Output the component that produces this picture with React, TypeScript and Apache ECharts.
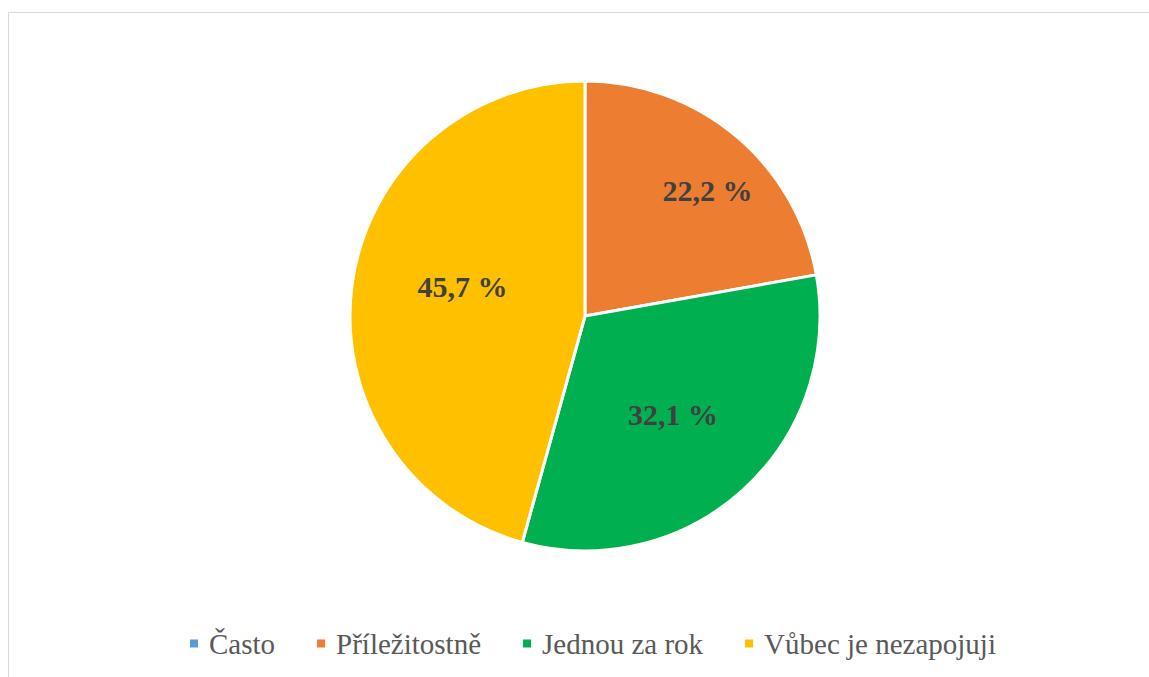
import React, { useEffect, useRef } from "react";
import * as echarts from "echarts";

const categories = ["Často", "Příležitostně", "Jednou za rok", "Vůbec je nezapojuji"];
const values = [0, 22.2, 32.1, 45.7];
const colors = ["#5B9BD5", "#ED7D31", "#00B050", "#FFC000"];
const labelOffsets: number[][] = [[0, 0], [45, -33], [7, 9], [-3, -13]];

const FONT = "'Times New Roman', 'Liberation Serif', 'DejaVu Serif', serif";

export default function App() {
  const ref = useRef<HTMLDivElement>(null);
  useEffect(() => {
    if (!ref.current) return;
    const chart = echarts.init(ref.current, null, { renderer: "svg" });
    chart.setOption({
      animation: false,
      backgroundColor: "#ffffff",
      textStyle: { fontFamily: FONT },
      graphic: [
        {
          type: "rect",
          shape: { x: 8.5, y: 12.5, width: 1200, height: 700 },
          style: { fill: "none", stroke: "#d9d9d9", lineWidth: 1 },
          silent: true,
        },
      ],
      legend: {
        left: 188,
        top: 629,
        padding: 0,
        icon: "rect",
        itemWidth: 10,
        itemHeight: 10,
        itemGap: 40,
        data: categories,
        textStyle: {
          fontFamily: FONT,
          fontSize: 29,
          color: "#595959",
          lineHeight: 29,
          padding: [0, 0, 0, 5],
        },
      },
      series: [
        {
          type: "pie",
          center: [585, 316],
          radius: [0, 235],
          startAngle: 90,
          clockwise: true,
          itemStyle: { borderColor: "#ffffff", borderWidth: 3 },
          label: {
            show: true,
            position: "inside",
            fontFamily: FONT,
            fontSize: 30,
            fontWeight: "bold",
            color: "#404040",
            formatter: (p: any) => `${Number(p.value).toFixed(1).replace(".", ",")} %`,
          },
          labelLine: { show: false },
          emphasis: { disabled: true },
          data: categories.map((name, i) => ({
            name,
            value: values[i],
            itemStyle: { color: colors[i] },
            label: { show: values[i] > 0, offset: labelOffsets[i] },
          })),
        },
      ],
    });
    return () => chart.dispose();
  }, []);
  return (
    <div
      ref={ref}
      style={{ position: "absolute", left: 0, top: 0, width: 1149, height: 677 }}
    />
  );
}
